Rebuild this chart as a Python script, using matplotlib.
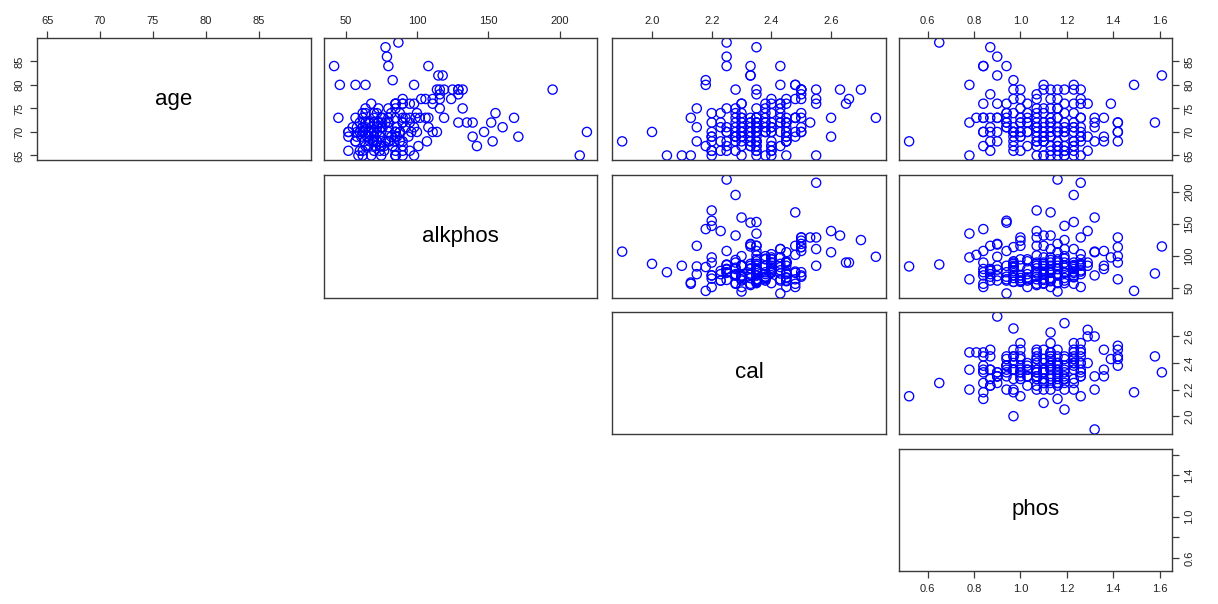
import matplotlib
matplotlib.use("Agg")
import matplotlib.pyplot as plt

plt.rcParams['font.family'] = ['Liberation Sans', 'DejaVu Sans']

var_names = ["age", "alkphos", "cal", "phos"]

age = [68, 89, 80, 72, 65, 73, 84, 76, 73, 70, 67, 73, 70, 84, 88, 78, 73, 71, 70, 68,
       73, 86, 82, 76, 73, 84, 74, 72, 71, 73, 72, 71, 81, 79, 77, 70, 69, 68, 70, 67,
       70, 79, 77, 75, 72, 70, 69, 70, 76, 74, 70, 72, 78, 77, 72, 69, 67, 65, 70, 68,
       73, 80, 79, 75, 65, 71, 69, 68, 65, 70, 79, 77, 73, 71, 70, 67, 65, 66, 72, 79,
       77, 75, 73, 70, 68, 65, 71, 66, 79, 76, 72, 70, 65, 66, 65, 74, 80, 79, 76, 74,
       70, 68, 66, 72, 79, 77, 76, 71, 69, 65, 73, 76, 69, 66, 73, 71, 68, 72, 73, 69,
       68, 76, 72, 70, 68, 72, 70, 80, 72, 82,
       69, 70, 71, 68, 72, 73, 69, 67, 70, 71, 74, 68, 66, 72, 75, 69, 70, 67, 71, 73,
       68, 72, 74, 69, 70, 66, 71, 75, 67, 72, 76, 68, 70, 73, 69, 71, 74, 67, 65, 66,
       67, 69, 70, 71, 68, 72, 66, 73, 69, 70, 74, 67, 71, 68, 75]

alkphos = [84, 87, 64, 135, 98, 102, 108, 90, 75, 70, 142, 57, 52, 80, 78, 116, 80, 62, 68, 72,
           99, 79, 118, 85, 119, 42, 155, 152, 108, 85, 75, 62, 83, 114, 90, 85, 70, 70, 88, 77,
           66, 129, 124, 116, 95, 85, 70, 62, 95, 62, 52, 80, 129, 116, 139, 171, 101, 85, 75, 57,
           90, 98, 116, 132, 85, 75, 65, 57, 90, 80, 132, 111, 168, 98, 85, 75, 62, 52, 90, 119,
           106, 85, 45, 219, 72, 59, 80, 95, 125, 111, 90, 147, 75, 62, 85, 100, 57, 195, 85, 70,
           111, 153, 90, 80, 129, 103, 85, 72, 52, 214, 95, 90, 139, 85, 106, 160, 107, 70, 108, 85,
           80, 98, 129, 114, 90, 64, 100, 46, 73, 115,
           66, 72, 68, 63, 78, 70, 82, 74, 88, 92, 64, 69, 77, 60, 73, 94, 58, 66, 86, 76,
           88, 67, 82, 61, 96, 70, 64, 80, 83, 73, 68, 78, 62, 92, 74, 58, 88, 71, 68, 60,
           64, 58, 70, 76, 81, 66, 74, 62, 86, 60, 72, 90, 55, 67, 64]

cal = [2.15, 2.25, 2.48, 2.35, 2.20, 2.48, 2.25, 2.45, 2.38, 2.35, 2.18, 2.13, 2.48, 2.33, 2.35, 2.35, 2.28, 2.23, 2.50, 2.45,
       2.75, 2.25, 2.33, 2.30, 2.33, 2.43, 2.20, 2.33, 2.35, 2.30, 2.45, 2.38, 2.18, 2.50, 2.66, 2.35, 2.28, 2.20, 2.00, 2.35,
       2.45, 2.55, 2.50, 2.15, 2.38, 2.33, 2.30, 2.45, 2.40, 2.23, 2.30, 2.35, 2.50, 2.48, 2.23, 2.20, 2.35, 2.30, 2.40, 2.28,
       2.45, 2.43, 2.35, 2.28, 2.10, 2.50, 2.20, 2.33, 2.40, 2.25, 2.63, 2.55, 2.48, 2.40, 2.30, 2.25, 2.35, 2.20, 2.45, 2.50,
       2.45, 2.38, 2.30, 2.25, 2.23, 2.13, 2.35, 2.40, 2.70, 2.43, 2.28, 2.20, 2.05, 2.35, 2.45, 2.30, 2.48, 2.28, 2.55, 2.50,
       2.43, 2.35, 2.20, 2.40, 2.50, 2.40, 2.30, 2.15, 2.45, 2.55, 2.35, 2.65, 2.60, 2.40, 2.60, 2.30, 1.90, 2.20, 2.50, 2.30,
       2.35, 2.43, 2.53, 2.50, 2.45, 2.43, 2.38, 2.18, 2.45, 2.33,
       2.33, 2.38, 2.30, 2.25, 2.43, 2.35, 2.28, 2.40, 2.33, 2.45, 2.38, 2.30, 2.23, 2.35, 2.43, 2.28, 2.40, 2.33, 2.25, 2.48,
       2.35, 2.30, 2.40, 2.45, 2.38, 2.28, 2.35, 2.25, 2.43, 2.33, 2.38, 2.40, 2.30, 2.35, 2.48, 2.28, 2.43, 2.33, 2.38, 2.35,
       2.30, 2.35, 2.28, 2.40, 2.33, 2.38, 2.25, 2.43, 2.30, 2.35, 2.28, 2.40, 2.33, 2.45, 2.35]

phos = [0.52, 0.65, 0.78, 0.78, 0.78, 0.81, 0.84, 0.84, 0.84, 0.84, 0.84, 0.84, 0.84, 0.84, 0.87, 0.87, 0.87, 0.87, 0.87, 0.87,
        0.90, 0.90, 0.90, 0.90, 0.90, 0.94, 0.94, 0.94, 0.94, 0.94, 0.94, 0.94, 0.97, 0.97, 0.97, 0.97, 0.97, 0.97, 0.97, 0.97,
        0.97, 1.00, 1.00, 1.00, 1.00, 1.00, 1.00, 1.00, 1.03, 1.03, 1.03, 1.03, 1.07, 1.07, 1.07, 1.07, 1.07, 1.07, 1.07, 1.07,
        1.07, 1.10, 1.10, 1.10, 1.10, 1.10, 1.10, 1.10, 1.10, 1.10, 1.13, 1.13, 1.13, 1.13, 1.13, 1.13, 1.13, 1.13, 1.13, 1.16,
        1.16, 1.16, 1.16, 1.16, 1.16, 1.16, 1.16, 1.16, 1.19, 1.19, 1.19, 1.19, 1.19, 1.19, 1.19, 1.19, 1.23, 1.23, 1.23, 1.23,
        1.23, 1.23, 1.23, 1.23, 1.26, 1.26, 1.26, 1.26, 1.26, 1.26, 1.26, 1.29, 1.29, 1.29, 1.32, 1.32, 1.32, 1.32, 1.36, 1.36,
        1.36, 1.39, 1.42, 1.42, 1.42, 1.42, 1.42, 1.49, 1.58, 1.61,
        1.00, 1.03, 1.07, 1.10, 1.13, 1.16, 1.19, 1.23, 1.26, 0.97, 0.94, 0.90, 0.87, 1.00, 1.07, 1.13, 1.16, 1.19, 1.23, 1.26,
        1.10, 1.03, 0.97, 1.13, 1.19, 1.00, 1.07, 1.16, 1.23, 1.10, 0.94, 1.26, 0.90, 1.03, 1.13, 1.19, 1.07, 1.16, 1.23, 0.97,
        1.03, 1.10, 1.16, 1.23, 1.07, 1.13, 1.19, 1.00, 1.26, 0.97, 1.10, 1.16, 1.07, 1.23, 1.13]

data = {"age": age, "alkphos": alkphos, "cal": cal, "phos": phos}

# tick positions / labels used on the top and bottom edges
top_ticks = {
    "age": ([65, 70, 75, 80, 85], ["65", "70", "75", "80", "85"]),
    "alkphos": ([50, 100, 150, 200], ["50", "100", "150", "200"]),
    "cal": ([2.0, 2.2, 2.4, 2.6], ["2.0", "2.2", "2.4", "2.6"]),
    "phos": ([0.6, 0.8, 1.0, 1.2, 1.4, 1.6], ["0.6", "0.8", "1.0", "1.2", "1.4", "1.6"]),
}
# tick positions / labels used on the left and right edges
side_ticks = {
    "age": ([65, 70, 75, 80, 85], ["65", "70", "75", "80", "85"]),
    "alkphos": ([50, 100, 150, 200], ["50", "100", "150", "200"]),
    "cal": ([2.0, 2.2, 2.4, 2.6], ["2.0", "2.2", "2.4", "2.6"]),
    "phos": ([0.6, 0.8, 1.0, 1.2, 1.4, 1.6], ["0.6", "", "1.0", "", "1.4", ""]),
}


def padded(v):
    lo, hi = min(v), max(v)
    d = (hi - lo) * 0.04
    return lo - d, hi + d


W, H = 1218, 604
fig = plt.figure(figsize=(W / 100, H / 100), dpi=100)
fig.patch.set_facecolor("white")

col_x = [(37, 311), (324, 597), (612, 886), (899, 1172)]
row_y = [(38, 160), (175, 298), (312, 434), (449, 571)]

edge = "#3a3a3a"
txt = "#222222"
tick_kw = dict(length=5, width=0.9, color=edge, labelsize=8, labelcolor=txt, pad=4)

n = len(var_names)
for i in range(n):
    for j in range(i, n):
        x0, x1 = col_x[j]
        y0, y1 = row_y[i]
        ax = fig.add_axes([x0 / W, 1 - y1 / H, (x1 - x0) / W, (y1 - y0) / H])
        xv, yv = var_names[j], var_names[i]
        ax.set_xlim(*padded(data[xv]))
        ax.set_ylim(*padded(data[yv]))
        for s in ax.spines.values():
            s.set_color(edge)
            s.set_linewidth(1.0)
        ax.set_xticks([])
        ax.set_yticks([])
        if i == j:
            ax.text(0.5, 0.5, xv, transform=ax.transAxes, ha="center", va="center",
                    fontsize=16, color="black")
        else:
            ax.scatter(data[xv], data[yv], s=44, facecolors="none",
                       edgecolors="#0000ff", linewidths=0.95)

        # axes on the outer sides of the upper triangle
        if i == 0:
            t, l = top_ticks[xv]
            ax.set_xticks(t)
            ax.set_xticklabels(l)
            ax.xaxis.tick_top()
            ax.tick_params(axis="x", **tick_kw)
        if i == 0 and j == 0:
            t, l = side_ticks[yv]
            ax.set_yticks(t)
            ax.set_yticklabels(l, rotation=90, va="center")
            ax.tick_params(axis="y", **tick_kw)
        if j == n - 1:
            t, l = side_ticks[yv]
            ax.set_yticks(t)
            ax.set_yticklabels(l, rotation=90, va="center")
            ax.yaxis.tick_right()
            ax.tick_params(axis="y", **tick_kw)
        if i == n - 1 and j == n - 1:
            t, l = top_ticks[xv]
            ax.set_xticks(t)
            ax.set_xticklabels(l)
            ax.xaxis.tick_bottom()
            ax.tick_params(axis="x", **tick_kw)

fig.savefig("out.png", dpi=100, facecolor="white")
